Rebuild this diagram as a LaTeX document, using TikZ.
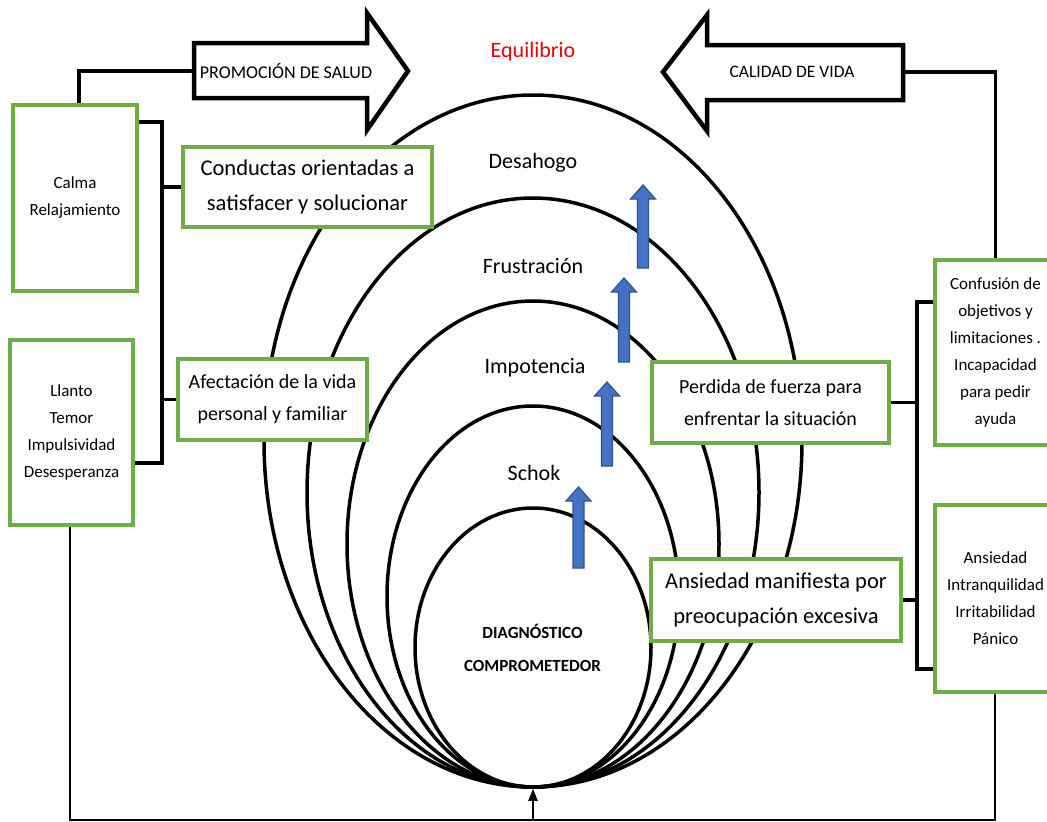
\documentclass[tikz,border=0pt]{standalone}
\usepackage{fontspec}
\setmainfont{Carlito}
\usetikzlibrary{shapes.geometric,arrows.meta}
\definecolor{boxgreen}{RGB}{112,173,71}
\definecolor{arrowblue}{RGB}{68,114,196}
\definecolor{arrowedge}{RGB}{47,82,143}
\definecolor{eqred}{RGB}{235,0,0}
\begin{document}
\begin{tikzpicture}[x=1pt,y=-1pt,
 gbox/.style={draw=boxgreen, line width=3.6pt, fill=white, inner sep=2pt, align=center},
 bigtxt/.style={font=\fontsize{22.5}{35}\selectfont},
 midtxt/.style={font=\fontsize{20}{32}\selectfont},
 smalltxt/.style={font=\fontsize{17}{27}\selectfont},
 ring/.style={draw=black, line width=3.5pt, ellipse, inner sep=0pt},
 conn/.style={draw=black, line width=3.5pt},
 bigarrow/.style={draw=black, line width=4.5pt, fill=white, line join=miter},
 bluearr/.style={fill=arrowblue, draw=arrowedge, line width=1.2pt, line join=miter},
 lbl/.style={font=\fontsize{22}{26}\selectfont, inner sep=0pt}]

\useasboundingbox (0,0) rectangle (1047,822);
\fill[white] (0,0) rectangle (1047,822);

% nested rings
\node[ring, minimum width=538pt, minimum height=692pt] (e1) at (533,441) {};
\node[ring, minimum width=452pt, minimum height=589pt] (e2) at (533,492.5) {};
\node[ring, minimum width=372pt, minimum height=486pt] (e3) at (533,544) {};
\node[ring, minimum width=292pt, minimum height=381pt] (e4) at (533,596.5) {};
\node[ring, minimum width=236pt, minimum height=279pt] (e5) at (533,647.5) {};

% ring labels
\node[lbl, text=eqred] (equil) at (533,52) {Equilibrio};
\node[lbl] (desahogo) at (533,163) {Desahogo};
\node[lbl] (frustra) at (533,266) {Frustración};
\node[lbl] (impot) at (535,368) {Impotencia};
\node[lbl] (schok) at (534,473) {Schok};
\node[font=\fontsize{17}{33}\selectfont\bfseries, align=center, inner sep=0pt] (diag) at (532.5,648) {DIAGNÓSTICO\\COMPROMETEDOR};

% blue arrows
\foreach \c/\t/\b in {643/185/268, 624/278/362, 607/382/466, 578.5/487/568}{
  \draw[bluearr] ({\c-5.5},\b) -- ({\c-5.5},{\t+14}) -- ({\c-12.5},{\t+14}) -- (\c,\t)
     -- ({\c+12.5},{\t+14}) -- ({\c+5.5},{\t+14}) -- ({\c+5.5},\b) -- cycle;
}

% big block arrows
\draw[bigarrow] (194,43) -- (367,43) -- (367,13) -- (408,71) -- (367,130) -- (367,98) -- (194,98) -- cycle;
\node[font=\fontsize{18}{20}\selectfont] (promo) at (286,71) {PROMOCIÓN DE SALUD};
\draw[bigarrow] (903,45) -- (707,45) -- (707,15) -- (663,72) -- (707,131) -- (707,100) -- (903,100) -- cycle;
\node[font=\fontsize{17.5}{20}\selectfont] (calidad) at (792,72) {CALIDAD DE VIDA};
\coordinate (promoL) at (194,71);
\coordinate (calidadR) at (903,72);

% boxes
\node[gbox, smalltxt, minimum width=124pt, minimum height=186pt] (calma) at (75,198) {Calma\\Relajamiento};
\node[gbox, smalltxt, minimum width=123pt, minimum height=185pt] (llanto) at (71.5,432.5) {Llanto\\Temor\\Impulsividad\\Desesperanza};
\node[gbox, bigtxt, minimum width=249pt, minimum height=80pt] (conductas) at (307.5,187) {Conductas orientadas a\\satisfacer y solucionar};
\node[gbox, midtxt, minimum width=189pt, minimum height=81pt] (afect) at (272.5,399.5) {Afectación de la vida\\personal y familiar};
\node[gbox, midtxt, minimum width=237pt, minimum height=81pt] (perdida) at (770.5,402.5) {Perdida de fuerza para\\enfrentar la situación};
\node[gbox, bigtxt, minimum width=250pt, minimum height=82pt] (ansman) at (776,600) {Ansiedad manifiesta por\\preocupación excesiva};
\node[gbox, smalltxt, minimum width=121pt, minimum height=185pt] (confusion) at (995.5,352.5) {Confusión de\\objetivos y\\limitaciones .\\Incapacidad\\para pedir\\ayuda};
\node[gbox, smalltxt, minimum width=121pt, minimum height=187pt] (ansiedad) at (995.5,598.5) {Ansiedad\\Intranquilidad\\Irritabilidad\\Pánico};

% connectors to block arrows
\draw[conn] ([xshift=4pt]calma.north) |- (promoL);
\draw[conn] (calidadR) -| (confusion.north);

% left bracket
\coordinate (lbTop) at (162,122);
\coordinate (lbBot) at (162,463);
\draw[conn] (calma.east |- lbTop) -- (lbTop) -- (lbBot) -- (llanto.east |- lbBot);
\draw[conn] (lbTop |- conductas.west) -- (conductas.west);
\draw[conn] (lbTop |- afect.west) -- (afect.west);

% right bracket
\coordinate (rbTop) at (917,302);
\coordinate (rbBot) at (917,669);
\draw[conn] (confusion.west |- rbTop) -- (rbTop) -- (rbBot) -- (ansiedad.west |- rbBot);
\draw[conn] (perdida.east) -- (rbTop |- perdida.east);
\draw[conn] (ansman.east) -- (rbTop |- ansman.east);

% bottom feedback loop
\coordinate (bl) at (70,820);
\coordinate (br) at (995,820);
\coordinate (bm) at (533,820);
\draw[line width=2.2pt] (llanto.south -| bl) -- (bl) -- (br) -- (ansiedad.south -| br);
\draw[line width=2pt, -{Triangle[length=12pt,width=9pt]}] (bm) -- (e5.south);
\end{tikzpicture}
\end{document}
